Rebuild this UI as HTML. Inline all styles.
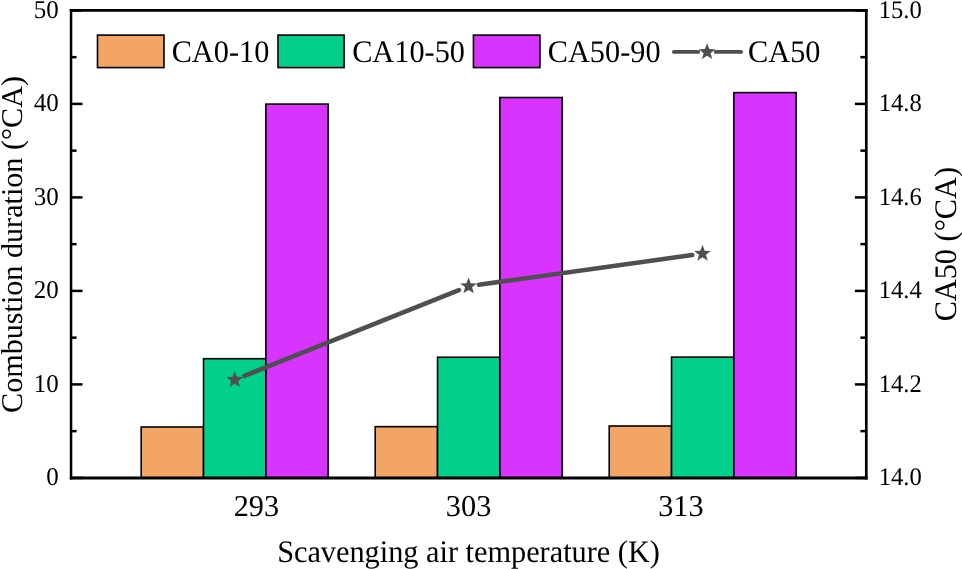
<!DOCTYPE html>
<html>
<head>
<meta charset="utf-8">
<style>
html,body{margin:0;padding:0;background:#fff;}
body{width:962px;height:569px;overflow:hidden;}
svg{display:block;will-change:transform;}
text{font-family:"Liberation Serif",serif;fill:#000;text-rendering:geometricPrecision;}
</style>
</head>
<body>
<svg width="962" height="569" viewBox="0 0 962 569">
<g stroke="#000" stroke-width="1.6">
<rect x="141.20" y="427.00" width="62.33" height="50.90" fill="#F3A566"/>
<rect x="203.53" y="358.70" width="62.33" height="119.20" fill="#00D08C"/>
<rect x="265.87" y="104.10" width="62.33" height="373.80" fill="#D933FF"/>
<rect x="375.20" y="426.65" width="62.33" height="51.25" fill="#F3A566"/>
<rect x="437.53" y="357.25" width="62.33" height="120.65" fill="#00D08C"/>
<rect x="499.87" y="97.50" width="62.33" height="380.40" fill="#D933FF"/>
<rect x="609.21" y="426.00" width="62.33" height="51.90" fill="#F3A566"/>
<rect x="671.54" y="357.10" width="62.33" height="120.80" fill="#00D08C"/>
<rect x="733.87" y="92.60" width="62.33" height="385.30" fill="#D933FF"/>
</g>
<g stroke="#000" fill="none">
<line x1="71.05" y1="9.1" x2="71.05" y2="479.4" stroke-width="2.5"/>
<line x1="866.3" y1="9.1" x2="866.3" y2="479.4" stroke-width="2.7"/>
<line x1="69.8" y1="10.4" x2="867.6" y2="10.4" stroke-width="2.6"/>
<line x1="69.8" y1="477.9" x2="867.6" y2="477.9" stroke-width="3"/>
</g>
<g stroke="#000" stroke-width="2.5">
<line x1="71.05" y1="477.90" x2="82.5" y2="477.90"/>
<line x1="866.3" y1="477.90" x2="854.9" y2="477.90"/>
<line x1="71.05" y1="384.40" x2="82.5" y2="384.40"/>
<line x1="866.3" y1="384.40" x2="854.9" y2="384.40"/>
<line x1="71.05" y1="290.90" x2="82.5" y2="290.90"/>
<line x1="866.3" y1="290.90" x2="854.9" y2="290.90"/>
<line x1="71.05" y1="197.40" x2="82.5" y2="197.40"/>
<line x1="866.3" y1="197.40" x2="854.9" y2="197.40"/>
<line x1="71.05" y1="103.90" x2="82.5" y2="103.90"/>
<line x1="866.3" y1="103.90" x2="854.9" y2="103.90"/>
<line x1="71.05" y1="10.40" x2="82.5" y2="10.40"/>
<line x1="866.3" y1="10.40" x2="854.9" y2="10.40"/>
<line x1="71.05" y1="431.15" x2="76.6" y2="431.15"/>
<line x1="866.3" y1="431.15" x2="860.4" y2="431.15"/>
<line x1="71.05" y1="337.65" x2="76.6" y2="337.65"/>
<line x1="866.3" y1="337.65" x2="860.4" y2="337.65"/>
<line x1="71.05" y1="244.15" x2="76.6" y2="244.15"/>
<line x1="866.3" y1="244.15" x2="860.4" y2="244.15"/>
<line x1="71.05" y1="150.65" x2="76.6" y2="150.65"/>
<line x1="866.3" y1="150.65" x2="860.4" y2="150.65"/>
<line x1="71.05" y1="57.15" x2="76.6" y2="57.15"/>
<line x1="866.3" y1="57.15" x2="860.4" y2="57.15"/>
</g>
<g font-size="25" text-anchor="end">
<text transform="translate(58.8,485.36) scale(1,1.03)">0</text>
<text transform="translate(58.8,391.86) scale(1,1.03)">10</text>
<text transform="translate(58.8,298.36) scale(1,1.03)">20</text>
<text transform="translate(58.8,204.86) scale(1,1.03)">30</text>
<text transform="translate(58.8,111.36) scale(1,1.03)">40</text>
<text transform="translate(58.8,17.86) scale(1,1.03)">50</text>
</g>
<g font-size="24.6">
<text transform="translate(878.7,485.36) scale(1,1.03)">14.0</text>
<text transform="translate(878.7,391.86) scale(1,1.03)">14.2</text>
<text transform="translate(878.7,298.36) scale(1,1.03)">14.4</text>
<text transform="translate(878.7,204.86) scale(1,1.03)">14.6</text>
<text transform="translate(878.7,111.36) scale(1,1.03)">14.8</text>
<text transform="translate(878.7,17.86) scale(1,1.03)">15.0</text>
</g>
<g font-size="30.3" text-anchor="middle">
<text x="256.4" y="516">293</text>
<text x="468.6" y="516">303</text>
<text x="680.9" y="516">313</text>
</g>
<text font-size="30.3" text-anchor="middle" transform="translate(468.5,562.2) scale(1,1.035)">Scavenging air temperature (K)</text>
<text font-size="30.15" text-anchor="middle" transform="translate(21.5,244.5) rotate(-90)">Combustion duration (°CA)</text>
<text font-size="30.3" text-anchor="middle" transform="translate(955.8,244.2) rotate(-90) scale(1,1.035)">CA50 (°CA)</text>
<g stroke="#4F4F4F" stroke-width="4.6" stroke-linecap="round" fill="none">
<line x1="244.36" y1="375.94" x2="458.94" y2="290.06"/>
<line x1="478.90" y1="284.76" x2="692.20" y2="255.04"/>
</g>
<g fill="#4F4F4F">
<path d="M234.70,371.05 L236.86,376.83 L243.02,377.10 L238.20,380.94 L239.84,386.88 L234.70,383.48 L229.56,386.88 L231.20,380.94 L226.38,377.10 L232.54,376.83 Z"/>
<path d="M468.60,277.45 L470.76,283.23 L476.92,283.50 L472.10,287.34 L473.74,293.28 L468.60,289.88 L463.46,293.28 L465.10,287.34 L460.28,283.50 L466.44,283.23 Z"/>
<path d="M702.50,244.85 L704.66,250.63 L710.82,250.90 L706.00,254.74 L707.64,260.68 L702.50,257.27 L697.36,260.68 L699.00,254.74 L694.18,250.90 L700.34,250.63 Z"/>
</g>
<g stroke="#000" stroke-width="1.6">
<rect x="97.5" y="35.1" width="66.50" height="32.5" fill="#F3A566"/>
<rect x="278.0" y="35.1" width="66.10" height="32.5" fill="#00D08C"/>
<rect x="473.45" y="35.1" width="66.50" height="32.5" fill="#D933FF"/>
</g>
<g stroke="#4F4F4F" stroke-width="3.8" stroke-linecap="round">
<line x1="673.9" y1="51.9" x2="698.3" y2="51.9"/><line x1="715.6" y1="51.9" x2="741.1" y2="51.9"/>
</g>
<path fill="#4F4F4F" d="M707.10,43.25 L709.26,49.03 L715.42,49.30 L710.60,53.14 L712.24,59.08 L707.10,55.67 L701.96,59.08 L703.60,53.14 L698.78,49.30 L704.94,49.03 Z"/>
<g font-size="30.3">
<text transform="translate(171.66,61.7) scale(1,1.035)">CA0-10</text>
<text transform="translate(352.16,61.7) scale(1,1.035)">CA10-50</text>
<text transform="translate(547.76,61.7) scale(1,1.035)">CA50-90</text>
<text transform="translate(748.06,61.7) scale(1,1.035)">CA50</text>
</g>
</svg>
</body>
</html>
